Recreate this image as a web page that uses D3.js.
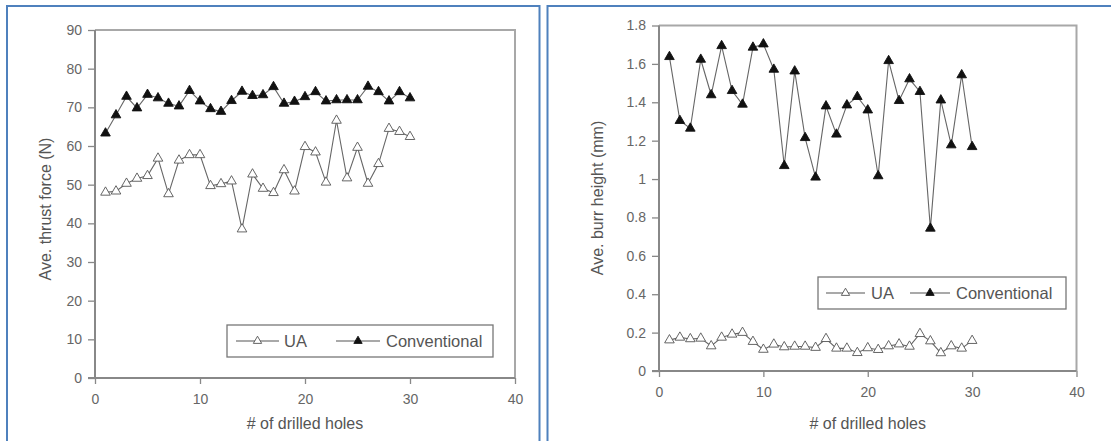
<!DOCTYPE html>
<html><head><meta charset="utf-8">
<script src="https://cdn.jsdelivr.net/npm/d3@7"></script>
<style>
html,body{margin:0;padding:0;background:#fff;}
svg{display:block;}
text{font-family:"Liberation Sans",Arial,sans-serif;}
</style></head>
<body>
<svg id="c" width="1111" height="441"></svg>
<script>
const holes = d3.range(1, 31);
const thrustUA = [48,48.3,50.3,51.6,52.3,56.8,47.6,56.3,57.7,57.7,49.7,50.2,50.9,38.5,52.7,49,47.9,53.8,48.3,59.8,58.4,50.6,66.6,51.7,59.6,50.3,55.4,64.5,63.7,62.4];
const thrustConv = [63.3,68,72.8,69.8,73.3,72.4,71,70.3,74.3,71.6,69.6,68.9,71.7,74.1,73,73.2,75.3,71,71.5,72.7,74,71.6,71.9,71.9,71.9,75.4,74,71.6,74,72.4];
const burrUA = [0.161,0.175,0.167,0.170,0.130,0.175,0.191,0.200,0.153,0.112,0.139,0.125,0.128,0.128,0.122,0.168,0.118,0.118,0.095,0.120,0.111,0.130,0.140,0.128,0.194,0.156,0.094,0.130,0.118,0.158];
const burrConv = [1.637,1.304,1.264,1.623,1.438,1.694,1.46,1.389,1.686,1.703,1.571,1.069,1.562,1.215,1.009,1.38,1.233,1.385,1.429,1.359,1.016,1.616,1.408,1.521,1.455,0.743,1.411,1.177,1.542,1.168];
const xTicks = [0,10,20,30,40];
const thrustTicks = [0,10,20,30,40,50,60,70,80,90];
const burrTicks = [0,0.2,0.4,0.6,0.8,1,1.2,1.4,1.6,1.8];
const seriesNames = ["UA","Conventional"];
const xTitle = "# of drilled holes";
const yTitles = ["Ave. thrust force (N)","Ave. burr height (mm)"];

const svg = d3.select("#c");
// panel borders
const blue = "#4f81bd";
svg.append("rect").attr("x",7).attr("y",6).attr("width",532.5).attr("height",450)
  .attr("fill","none").attr("stroke",blue).attr("stroke-width",2);
svg.append("rect").attr("x",547.5).attr("y",6).attr("width",600).attr("height",450)
  .attr("fill","none").attr("stroke",blue).attr("stroke-width",2);

const tri = d3.symbol().type(d3.symbolTriangle).size(40);
const triLeg = d3.symbol().type(d3.symbolTriangle).size(30);

function chart(cfg){
  const g = svg.append("g");
  const x = d3.scaleLinear().domain([0,40]).range([cfg.x0,cfg.x1]);
  const y = d3.scaleLinear().domain([0,cfg.ymax]).range([cfg.y0,cfg.y1]);
  // frame top/right
  g.append("path").attr("d",`M${cfg.x0},${cfg.y1}H${cfg.x1}V${cfg.y0}`)
    .attr("fill","none").attr("stroke","#a8a8a8").attr("stroke-width",2);
  const ya = g.append("g").attr("transform",`translate(${cfg.x0},0)`)
    .call(d3.axisLeft(y).tickValues(cfg.yTicks).tickSize(7).tickPadding(6).tickFormat(cfg.fmt));
  const xa = g.append("g").attr("transform",`translate(0,${cfg.y0})`)
    .call(d3.axisBottom(x).tickValues(xTicks).tickSize(6).tickPadding(10).tickFormat(d3.format("d")));
  [ya,xa].forEach(a=>{
    a.select(".domain").attr("stroke","#888").attr("stroke-width",2);
    a.selectAll(".tick line").attr("stroke","#888").attr("stroke-width",1.3);
    a.selectAll(".tick text").attr("fill","#666").attr("font-size",14);
  });
  xa.select(".domain").attr("d",`M${cfg.x0-7},0H${cfg.x1}`);
  ya.select(".domain").attr("d",`M0,${cfg.y0}V${cfg.y1}`);
  // titles
  g.append("text").attr("x",(cfg.x0+cfg.x1)/2).attr("y",429).attr("text-anchor","middle")
    .attr("font-size",16).attr("fill","#555").text(xTitle);
  g.append("text").attr("transform",`translate(${cfg.ytx},${cfg.yty}) rotate(-90)`)
    .attr("text-anchor","middle").attr("dy","0.35em").attr("font-size",16).attr("fill","#555").text(cfg.ytitle);
  const line = d3.line().x((d,i)=>x(holes[i])).y(d=>y(d));
  [[cfg.ua,"#fff"],[cfg.conv,"#111"]].forEach(([data,fill])=>{
    g.append("path").datum(data).attr("d",line).attr("fill","none").attr("stroke","#666").attr("stroke-width",1.1);
    g.selectAll(null).data(data).enter().append("path").attr("d",tri)
      .attr("transform",(d,i)=>`translate(${x(holes[i])},${y(d)})`)
      .attr("fill",fill).attr("stroke",fill==="#fff"?"#555":"#111").attr("stroke-width",0.9);
  });
  // legend
  const L = cfg.leg;
  g.append("rect").attr("x",L.x).attr("y",L.y).attr("width",L.w).attr("height",L.h)
    .attr("fill","#fff").attr("stroke","#777").attr("stroke-width",1.3);
  const cy = L.y+L.h/2;
  L.items.forEach((it,k)=>{
    g.append("line").attr("x1",it.l0).attr("x2",it.l1).attr("y1",cy).attr("y2",cy).attr("stroke","#555").attr("stroke-width",1.1);
    g.append("path").attr("d",triLeg).attr("transform",`translate(${(it.l0+it.l1)/2},${cy})`)
      .attr("fill",k===0?"#fff":"#111").attr("stroke",k===0?"#555":"#111").attr("stroke-width",0.9);
    g.append("text").attr("x",it.tx).attr("y",cy).attr("dy","0.36em").attr("font-size",16.5).attr("fill","#555").text(seriesNames[k]);
  });
}

chart({x0:95,x1:515,y0:378,y1:30,ymax:90,yTicks:thrustTicks,fmt:d3.format("d"),
  ua:thrustUA,conv:thrustConv,ytitle:yTitles[0],ytx:45,yty:209,
  leg:{x:227,y:325,w:266,h:32,items:[{l0:236,l1:279,tx:284},{l0:336,l1:380,tx:386}]}});
chart({x0:659,x1:1076.5,y0:371,y1:25.5,ymax:1.8,yTicks:burrTicks,fmt:d=>String(+d.toFixed(1)),
  ua:burrUA,conv:burrConv,ytitle:yTitles[1],ytx:597,yty:198,
  leg:{x:818,y:277,w:248,h:32,items:[{l0:826,l1:865,tx:871},{l0:910,l1:950,tx:956}]}});
</script>
</body></html>
